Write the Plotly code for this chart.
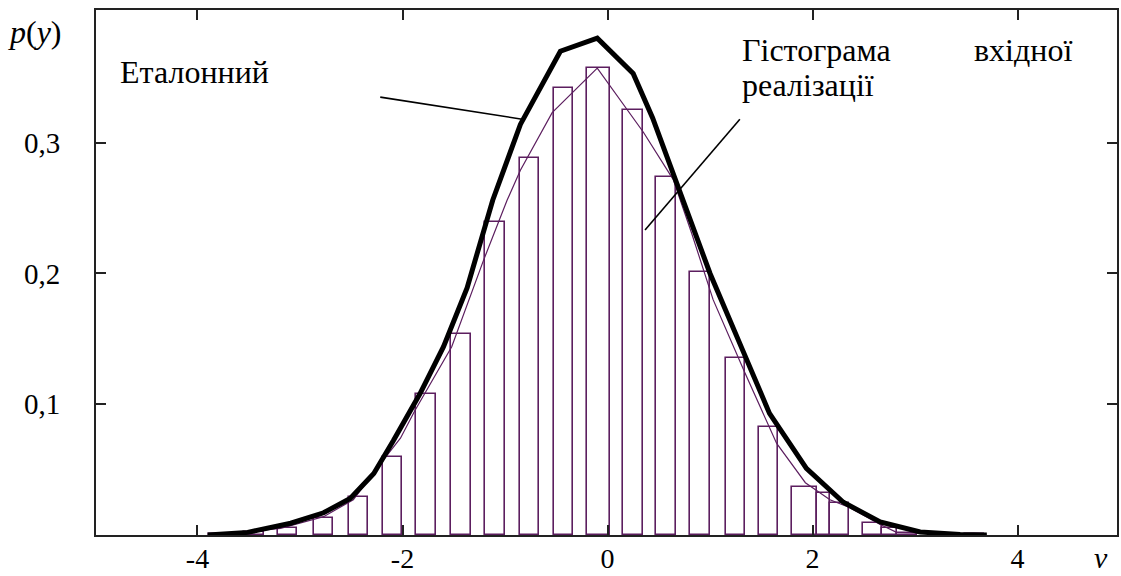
import plotly.graph_objects as go

# histogram of the input realisation (bin centres, widths, heights)
bin_centers = [-3.79, -3.45, -3.12, -2.77, -2.43, -2.10, -1.77, -1.43, -1.10, -0.76,
               -0.43, -0.09, 0.25, 0.57, 0.90, 1.25, 1.57, 1.92, 2.105, 2.265,
               2.585, 2.75, 2.92, 3.25, 3.58]
bin_widths = [0.19, 0.19, 0.19, 0.19, 0.19, 0.19, 0.19, 0.19, 0.19, 0.19,
              0.19, 0.22, 0.19, 0.19, 0.20, 0.19, 0.19, 0.24, 0.13, 0.19,
              0.19, 0.14, 0.19, 0.19, 0.19]
bin_heights = [0.001, 0.002, 0.0055, 0.013, 0.029, 0.060, 0.108, 0.154, 0.239, 0.288,
               0.342, 0.357, 0.325, 0.274, 0.2015, 0.135, 0.0825, 0.037, 0.032, 0.0245,
               0.009, 0.005, 0.0015, 0.0008, 0.0005]

# thin smoothed line over the histogram
hist_x = [-3.90, -3.19, -2.77, -2.48, -2.19, -2.02, -1.88, -1.52, -1.21, -0.98,
          -0.85, -0.54, -0.10, 0.35, 0.64, 0.82, 1.03, 1.34, 1.65, 1.93,
          2.17, 2.36, 2.66, 2.82, 3.70]
hist_y = [0.0, 0.005, 0.014, 0.027, 0.057, 0.074, 0.095, 0.144, 0.210, 0.256,
          0.279, 0.323, 0.357, 0.308, 0.272, 0.231, 0.180, 0.124, 0.070, 0.040,
          0.027, 0.021, 0.008, 0.002, 0.0]

# reference (etalon) density
ref_x = [-3.90, -3.51, -3.09, -2.77, -2.51, -2.28, -2.09, -1.83, -1.60, -1.37,
         -1.12, -0.85, -0.69, -0.46, -0.10, 0.25, 0.44, 0.71, 1.00, 1.32,
         1.58, 1.94, 2.30, 2.66, 3.05, 3.44, 3.70]
ref_y = [0.0, 0.002, 0.009, 0.017, 0.028, 0.047, 0.072, 0.108, 0.144, 0.189,
         0.256, 0.314, 0.337, 0.370, 0.380, 0.353, 0.319, 0.261, 0.200, 0.141,
         0.093, 0.051, 0.025, 0.010, 0.0023, 0.0003, 0.0]

x_ticks = [-4, -2, 0, 2, 4]
x_labels = ["-4", "-2", "0", "2", "4"]
y_ticks = [0.1, 0.2, 0.3]
y_labels = ["0,1", "0,2", "0,3"]

purple = "#5c1e5f"
font = "Liberation Serif"

fig = go.Figure()
fig.add_trace(go.Bar(x=bin_centers, y=bin_heights, width=bin_widths,
                     marker=dict(color="rgba(0,0,0,0)",
                                 line=dict(color=purple, width=1.6))))
fig.add_trace(go.Scatter(x=hist_x, y=hist_y, mode="lines",
                         line=dict(color=purple, width=1.2)))
fig.add_trace(go.Scatter(x=ref_x, y=ref_y, mode="lines",
                         line=dict(color="black", width=5)))

# leader lines from the labels to the curves
fig.add_shape(type="line", x0=-2.217, y0=0.3349, x1=-0.833, y1=0.318,
              line=dict(color="black", width=1.6))
fig.add_shape(type="line", x0=1.291, y0=0.318, x1=0.366, y1=0.2333,
              line=dict(color="black", width=1.6))

txt = dict(family=font, size=32, color="black")
fig.add_annotation(x=-4.78, y=0.3544, text="Еталонний", showarrow=False,
                   xanchor="left", yanchor="middle", font=txt)
fig.add_annotation(x=1.297, y=0.3709, text="Гістограма", showarrow=False,
                   xanchor="left", yanchor="middle", font=txt)
fig.add_annotation(x=3.553, y=0.3709, text="вхідної", showarrow=False,
                   xanchor="left", yanchor="middle", font=txt)
fig.add_annotation(x=1.297, y=0.344, text="реалізації", showarrow=False,
                   xanchor="left", yanchor="middle", font=txt)
fig.add_annotation(x=-0.0313, y=0.958, xref="paper", yref="paper",
                   text="<i>p</i>(<i>y</i>)", showarrow=False,
                   xanchor="right", yanchor="middle", font=txt)
fig.add_annotation(x=0.984, y=-0.043, xref="paper", yref="paper",
                   text="<i>v</i>", showarrow=False,
                   xanchor="center", yanchor="middle",
                   font=dict(family=font, size=30, color="black"))

axis_style = dict(showline=True, linecolor="#222", linewidth=2, mirror="ticks",
                  ticks="inside", ticklen=10, tickwidth=2, tickcolor="#222",
                  showgrid=False, zeroline=False, automargin=False)

fig.update_layout(
    template="none",
    width=1121, height=576,
    margin=dict(l=96, r=4, t=10, b=41, pad=0),
    plot_bgcolor="white", paper_bgcolor="white",
    showlegend=False, bargap=0,
    xaxis=dict(range=[-4.99, 4.97], tickvals=x_ticks, ticktext=x_labels,
               ticklabelstandoff=-3,
               tickfont=dict(family=font, size=28, color="black"), **axis_style),
    yaxis=dict(range=[0, 0.4015], tickvals=y_ticks, ticktext=y_labels,
               ticklabelstandoff=28,
               tickfont=dict(family=font, size=29, color="black"), **axis_style),
)

fig.write_html("out.html", config={"displayModeBar": False},
               post_script="document.body.style.margin='0';"
                           "document.body.style.overflow='hidden';")
